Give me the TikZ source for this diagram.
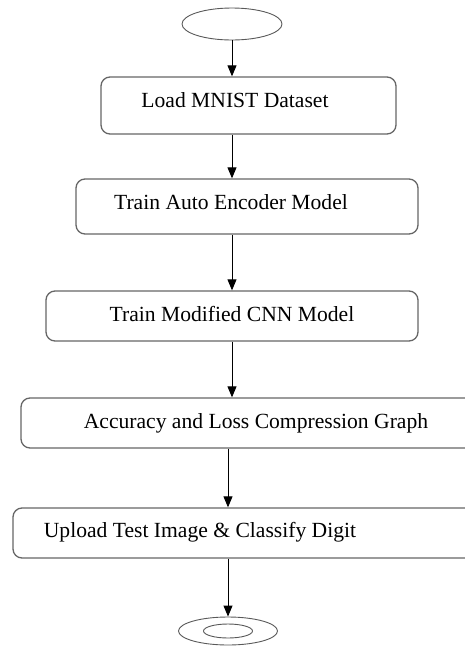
\documentclass[tikz,border=0pt]{standalone}
\usepackage{fontspec}
\setmainfont{Liberation Serif}
\usetikzlibrary{positioning,shapes.geometric,arrows.meta}

\begin{document}
\begin{tikzpicture}[x=1pt, y=-1pt, >={Triangle[length=11pt,width=9pt]},
    every node/.style={font=\fontsize{21.6}{26}\selectfont},
    stepbox/.style={draw=black!60, line width=1.3pt, rounded corners=9pt, inner sep=0pt},
    steptext/.style={inner sep=0pt, anchor=base},
    term/.style={draw=black!65, line width=0.9pt, ellipse, inner sep=0pt},
    flow/.style={->, line width=0.9pt}]
    \useasboundingbox (0,0) rectangle (465,646);

    % Start
    \node[term, minimum width=100pt, minimum height=32pt] (start) at (232,24) {};

    % Steps
    \node[stepbox, minimum width=295pt, minimum height=57pt] (load) at (248.5,105.5) {};
    \node[steptext] (loadtxt) at (235,107) {Load MNIST Dataset};

    \node[stepbox, minimum width=342pt, minimum height=55pt] (ae) at (247,206.5) {};
    \node[steptext] (aetxt) at (231,209) {Train Auto Encoder Model};

    \node[stepbox, minimum width=372pt, minimum height=50pt] (cnn) at (232,316) {};
    \node[steptext] (cnntxt) at (232,321) {Train Modified CNN Model};

    \node[stepbox, minimum width=460pt, minimum height=50pt] (acc) at (251,423) {};
    \node[steptext] (acctxt) at (256,428) {Accuracy and Loss Compression Graph};

    \node[stepbox, minimum width=462pt, minimum height=50pt] (upload) at (244,533) {};
    \node[steptext] (uploadtxt) at (200,537) {Upload Test Image \& Classify Digit};

    % Stop
    \node[term, minimum width=99pt, minimum height=28pt] (stop) at (228,631) {};
    \node[term, minimum width=49pt, minimum height=14pt] (stopin) at (228,631) {};

    % Arrows
    \draw[flow] (start) -- (start |- load.north);
    \draw[flow] (load.south -| start) -- (ae.north -| start);
    \draw[flow] (ae.south -| start) -- (cnn.north -| start);
    \draw[flow] (cnn.south -| start) -- (acc.north -| start);
    \draw[flow] (acc.south -| stop) -- (upload.north -| stop);
    \draw[flow] (upload.south -| stop) -- (stop);
\end{tikzpicture}
\end{document}
